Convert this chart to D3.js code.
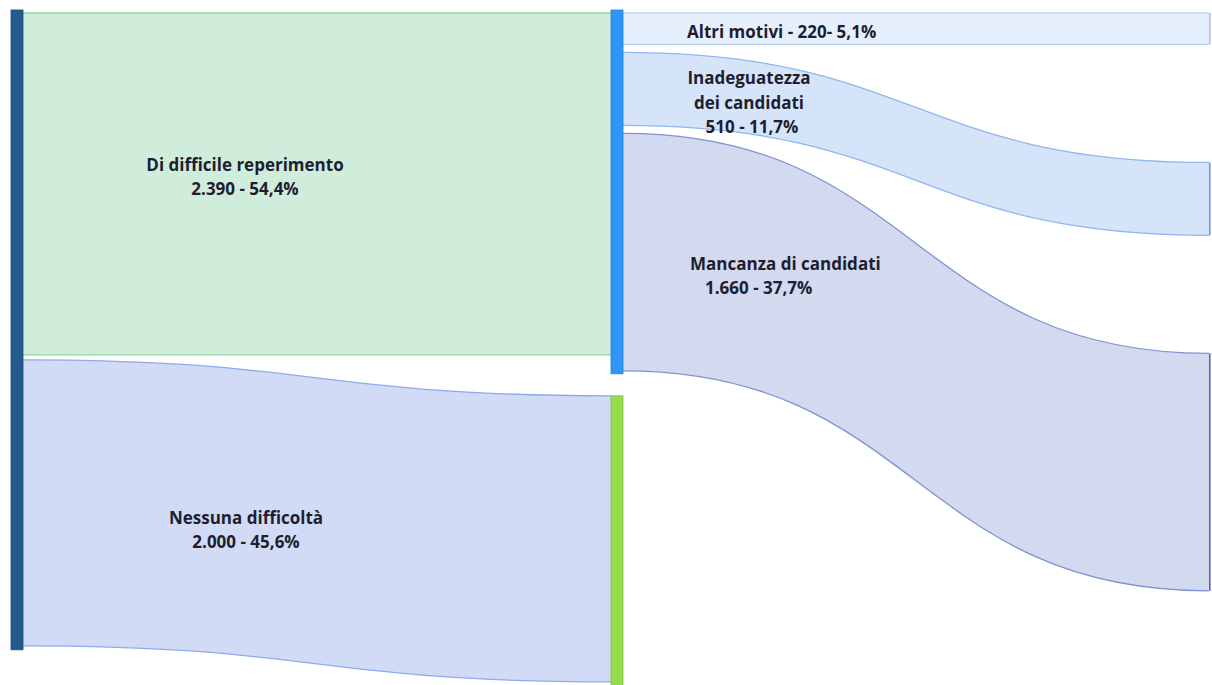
<!DOCTYPE html>
<html>
<head>
<meta charset="utf-8">
<script src="https://cdn.jsdelivr.net/npm/d3@7"></script>
<style>
  body { margin: 0; background: #fff; }
  text { font-family: "Open Sans", "Noto Sans", sans-serif; font-weight: 700; font-size: 17px; fill: #1e1e30; }
</style>
</head>
<body>
<script>
// data
const sources = ["Di difficile reperimento", "Nessuna difficoltà"];
const sourceValues = [2390, 2000];
const sourcePct = ["54,4%", "45,6%"];

const reasons = ["Altri motivi", "Inadeguatezza dei candidati", "Mancanza di candidati"];
const reasonValues = [220, 510, 1660];
const reasonPct = ["5,1%", "11,7%", "37,7%"];

const W = 1212, H = 685;
const it = d3.formatLocale({decimal: ",", thousands: ".", grouping: [3], currency: ["", "€"]});
const fmt = it.format(",d");

const svg = d3.select("body").append("svg").attr("width", W).attr("height", H);

// one value -> pixel scale for every band
const y = d3.scaleLinear().domain([0, d3.sum(sourceValues)]).range([0, 627.8]);

const xLeft = 11, xMid = 611, xRight = 1209, nodeW = 12;
const yTop = 13, leftGap = 5, midGap = 8, rightGap = 118, greenGap = 22;

const link = d3.linkHorizontal();
function band(x0, a0, b0, x1, a1, b1) {
  const xm = (x0 + x1) / 2;
  const p = d3.path();
  p.moveTo(x0, a0);
  p.bezierCurveTo(xm, a0, xm, a1, x1, a1);
  p.lineTo(x1, b1);
  p.bezierCurveTo(xm, b1, xm, b0, x0, b0);
  p.closePath();
  return p.toString();
}

// left stack
let acc = yTop;
const left = sourceValues.map(v => {
  const o = {y0: acc, y1: acc + y(v)};
  acc = o.y1 + leftGap;
  return o;
});

// middle stack (out of "Di difficile reperimento")
acc = yTop;
const mid = reasonValues.map(v => {
  const o = {y0: acc, y1: acc + y(v)};
  acc = o.y1 + midGap;
  return o;
});
const blueBottom = mid[2].y1 + 3;
const greenTop = blueBottom + greenGap;

// right stack
acc = yTop;
const right = reasonValues.map(v => {
  const o = {y0: acc, y1: acc + y(v)};
  acc = o.y1 + rightGap;
  return o;
});

const srcFill = ["#d0ecdb", "#d1dbf5"];
const srcLine = ["#8fd4a5", "#8eaaeb"];
const rsnFill = ["#e6f0fd", "#d6e4fa", "#d3d9ee"];
const rsnLine = ["#b9d1f4", "#90b6f0", "#7f93d2"];
const rsnEnd = ["#a9c2ea", "#6d9be0", "#4f6bb8"];

const links = svg.append("g");

// left -> middle
const srcTargets = [
  {y0: left[0].y0, y1: left[0].y1},
  {y0: greenTop, y1: greenTop + y(sourceValues[1])}
];
sourceValues.forEach((v, i) => {
  const x0 = xLeft + nodeW, x1 = xMid;
  const s = left[i], t = srcTargets[i];
  links.append("path").attr("d", band(x0, s.y0, s.y1, x1, t.y0, t.y1)).attr("fill", srcFill[i]);
  [[s.y0, t.y0], [s.y1, t.y1]].forEach(([a, b]) => {
    links.append("path").attr("d", link({source: [x0, a], target: [x1, b]}))
      .attr("fill", "none").attr("stroke", srcLine[i]).attr("stroke-width", 1.3);
  });
});

// middle -> right
reasonValues.forEach((v, i) => {
  const x0 = xMid + nodeW, x1 = xRight;
  const s = mid[i], t = right[i];
  links.append("path").attr("d", band(x0, s.y0, s.y1, x1, t.y0, t.y1)).attr("fill", rsnFill[i]);
  [[s.y0, t.y0], [s.y1, t.y1]].forEach(([a, b]) => {
    links.append("path").attr("d", link({source: [x0, a], target: [x1, b]}))
      .attr("fill", "none").attr("stroke", rsnLine[i]).attr("stroke-width", 1.3);
  });
  svg.append("rect").attr("x", x1).attr("y", t.y0).attr("width", 1.6).attr("height", t.y1 - t.y0)
    .attr("fill", rsnEnd[i]);
});

// nodes
const nodes = svg.append("g");
nodes.append("rect").attr("x", xLeft).attr("y", yTop - 3)
  .attr("width", nodeW).attr("height", left[1].y1 + 4 - (yTop - 3))
  .attr("fill", "#245b8e").attr("stroke", "#1d4c78").attr("stroke-width", 0.8);
nodes.append("rect").attr("x", xMid).attr("y", yTop - 3)
  .attr("width", nodeW).attr("height", blueBottom - (yTop - 3))
  .attr("fill", "#2f96f7").attr("stroke", "#1f7fd8").attr("stroke-width", 0.8);
nodes.append("rect").attr("x", xMid).attr("y", greenTop)
  .attr("width", nodeW).attr("height", srcTargets[1].y1 - greenTop + 6)
  .attr("fill", "#95dd4b").attr("stroke", "#7cc23a").attr("stroke-width", 0.8);

// labels
const labels = svg.append("g");
const srcLabel = [
  {x: 245, y: left[0].y0 + 158, lines: [sources[0], fmt(sourceValues[0]) + " - " + sourcePct[0]]},
  {x: 246, y: left[1].y0 + 164, lines: [sources[1], fmt(sourceValues[1]) + " - " + sourcePct[1]]}
];
srcLabel.forEach(l => {
  const t = labels.append("text").attr("text-anchor", "middle").attr("x", l.x).attr("y", l.y);
  l.lines.forEach((s, j) => t.append("tspan").attr("x", l.x).attr("dy", j ? 24 : 0).text(s));
});

labels.append("text").attr("x", 687).attr("y", mid[0].y0 + 25)
  .text(reasons[0] + " - " + fmt(reasonValues[0]) + "- " + reasonPct[0]);

const inad = labels.append("text").attr("text-anchor", "middle").attr("x", 749).attr("y", mid[1].y0 + 32);
["Inadeguatezza", "dei candidati", fmt(reasonValues[1]) + " - " + reasonPct[1]]
  .forEach((s, j) => inad.append("tspan").attr("x", j === 2 ? 752 : 749).attr("dy", j ? 24.5 : 0).text(s));

const manc = labels.append("text").attr("x", 690).attr("y", mid[2].y0 + 137);
manc.append("tspan").attr("x", 690).text(reasons[2]);
manc.append("tspan").attr("x", 705).attr("dy", 24).text(fmt(reasonValues[2]) + " - " + reasonPct[2]);
</script>
</body>
</html>
